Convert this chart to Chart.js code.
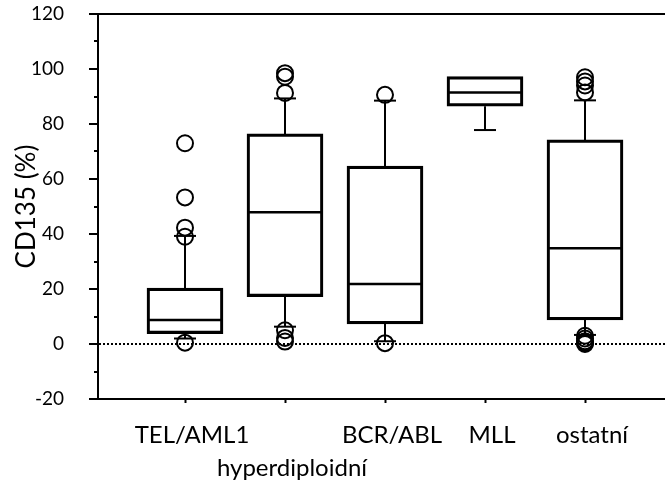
<!DOCTYPE html>
<html>
<head>
<meta charset="utf-8">
<script src="https://cdn.jsdelivr.net/npm/chart.js@4.4.1/dist/chart.umd.min.js"></script>
<style>
  html, body { margin: 0; padding: 0; background: #fff; overflow: hidden; }
  #wrap { width: 665px; height: 486px; }
</style>
</head>
<body>
<div id="wrap"><canvas id="chart"></canvas></div>
<script>
// categories and which label row they sit on (hyperdiploidni is on the 2nd row)
const categories = ["TEL/AML1", "hyperdiploidní", "BCR/ABL", "MLL", "ostatní"];
const labelRows = [0, 1, 0, 0, 0];

// box plot values (CD135 %)
const whiskerLow = [2, 6.3, 1, 77.8, 3.3];
const boxLow = [3.8, 17.2, 7.3, 86.5, 8.8];
const medians = [8.7, 47.9, 21.8, 91.5, 34.8];
const boxHigh = [20.3, 76.4, 64.7, 97.2, 74.2];
const whiskerHigh = [39.3, 89.3, 88.5, 97.2, 88.6];
const outliers = [
    [73, 53.3, 42.3, 39, 0.5],
    [98.5, 97.2, 91.3, 5, 2.2, 0.9],
    [90.6, 0.3],
    [],
    [97, 95.5, 94, 91.5, 3, 2, 1, 0.5, 0]
];

const yTicks = [-20, 0, 20, 40, 60, 80, 100, 120];
const yMinorTicks = [-10, 10, 30, 50, 70, 90, 110];

const FONT = "Lato";

// build the datasets from the arrays
const boxData = categories.map((c, i) => ({ x: i + 1, y: [boxLow[i], boxHigh[i]] }));
const medianData = categories.map((c, i) => ({ x: i + 1, y: medians[i] }));

const whiskerData = [];
const capData = [];
categories.forEach((c, i) => {
    const x = i + 1;
    if (whiskerHigh[i] > boxHigh[i]) {
        whiskerData.push({ x: x, y: boxHigh[i] }, { x: x, y: whiskerHigh[i] }, { x: x, y: null });
        capData.push({ x: x, y: whiskerHigh[i] });
    }
    if (whiskerLow[i] < boxLow[i]) {
        whiskerData.push({ x: x, y: boxLow[i] }, { x: x, y: whiskerLow[i] }, { x: x, y: null });
        capData.push({ x: x, y: whiskerLow[i] });
    }
});

const outlierData = [];
outliers.forEach((list, i) => {
    list.forEach(v => outlierData.push({ x: i + 1, y: v }));
});

// short minor ticks on the y axis
const minorTicks = {
    id: "minorTicks",
    afterDraw(chart) {
        const { ctx, chartArea, scales } = chart;
        ctx.save();
        ctx.strokeStyle = "#000";
        ctx.lineWidth = 2;
        yMinorTicks.forEach(v => {
            const py = Math.round(scales.y.getPixelForValue(v));
            ctx.beginPath();
            ctx.moveTo(chartArea.left - 4, py);
            ctx.lineTo(chartArea.left, py);
            ctx.stroke();
        });
        ctx.restore();
    }
};

const ctx = document.getElementById("chart").getContext("2d");
new Chart(ctx, {
    type: "bar",
    data: {
        datasets: [
            {
                type: "scatter",
                label: "outliers",
                data: outlierData,
                pointStyle: "circle",
                pointRadius: 8,
                borderWidth: 2,
                borderColor: "#000",
                backgroundColor: "transparent"
            },
            {
                type: "scatter",
                label: "median",
                data: medianData,
                pointStyle: "line",
                pointRadius: 38,
                borderWidth: 2.5,
                borderColor: "#000"
            },
            {
                type: "scatter",
                label: "caps",
                data: capData,
                pointStyle: "line",
                pointRadius: 11,
                borderWidth: 2,
                borderColor: "#000"
            },
            {
                type: "line",
                label: "whiskers",
                data: whiskerData,
                borderColor: "#000",
                borderWidth: 2,
                pointRadius: 0,
                spanGaps: false
            },
            {
                type: "bar",
                label: "box",
                data: boxData,
                barThickness: 76,
                borderWidth: 2.5,
                borderColor: "#000",
                borderSkipped: false,
                backgroundColor: "transparent"
            }
        ]
    },
    options: {
        responsive: true,
        maintainAspectRatio: false,
        animation: false,
        events: [],
        layout: { autoPadding: false, padding: { top: 14, right: 0, bottom: 0, left: 0 } },
        plugins: {
            legend: { display: false },
            tooltip: { enabled: false }
        },
        scales: {
            x: {
                type: "linear",
                offset: false,
                min: 0.13,
                max: 5.8,
                afterFit: s => {
                    s.height = 87;
                    s.paddingLeft = 0;
                    s.paddingRight = 0;
                },
                afterBuildTicks: s => { s.ticks = categories.map((c, i) => ({ value: i + 1 })); },
                ticks: {
                    callback: v => {
                        const i = Math.round(v) - 1;
                        return labelRows[i] === 1 ? ["", categories[i]] : categories[i];
                    },
                    font: { family: FONT, size: 24, lineHeight: 1.36 },
                    color: "#000",
                    padding: 16,
                    labelOffset: 7,
                    autoSkip: false,
                    maxRotation: 0
                },
                grid: { offset: false, drawOnChartArea: false, tickLength: 4, tickColor: "#000", tickWidth: 2 },
                border: { color: "#000", width: 2 }
            },
            xTop: {
                type: "linear",
                position: "top",
                offset: false,
                min: 0.13,
                max: 5.8,
                afterFit: s => {
                    s.height = 0;
                    s.paddingLeft = 0;
                    s.paddingRight = 0;
                },
                ticks: { display: false },
                grid: { display: false },
                border: { color: "#000", width: 2 }
            },
            y: {
                min: -20,
                max: 120,
                afterFit: s => {
                    s.width = 98;
                    s.paddingTop = 0;
                    s.paddingBottom = 0;
                },
                afterBuildTicks: s => { s.ticks = yTicks.map(v => ({ value: v })); },
                ticks: { font: { family: FONT, size: 19 }, color: "#000", padding: 25 },
                grid: {
                    color: c => (c.tick && c.tick.value === 0 ? "#000" : "transparent"),
                    lineWidth: 2,
                    tickLength: 9,
                    tickColor: "#000",
                    tickWidth: 2
                },
                border: { color: "#000", width: 2, dash: [2, 2] },
                title: {
                    display: true,
                    text: "CD135 (%)",
                    font: { family: FONT, size: 26 },
                    color: "#000",
                    padding: { top: 11, bottom: 0 }
                }
            }
        }
    },
    plugins: [minorTicks]
});
</script>
</body>
</html>
